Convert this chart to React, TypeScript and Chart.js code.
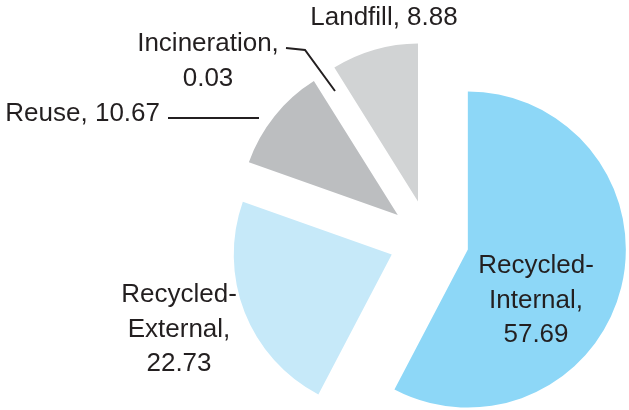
import React, { useEffect, useRef } from "react";
import { Chart, registerables } from "chart.js";

Chart.register(...registerables);

// ---- data ----
const categories = ["Recycled-Internal", "Recycled-External", "Reuse", "Incineration", "Landfill"];
const values = [57.69, 22.73, 10.67, 0.03, 8.88];
const colors = ["#8DD7F7", "#C6E9F9", "#BCBEC0", "#FFFFFF", "#D1D3D4"];

// ---- layout (label anchors, not data) ----
const EXPLODE = 40;
const RADIUS = 158;
const FONT = '26px "Liberation Sans", Arial, sans-serif';
const TEXT_COLOR = "#231F20";
const LINE_H = 34.5;
const labelLayout = [
  { x: 536, y: 273, align: "center", style: 3 },
  { x: 179, y: 302, align: "center", style: 3 },
  { x: 160, y: 121, align: "right", style: 1 },
  { x: 208, y: 51, align: "center", style: 2 },
  { x: 384, y: 25, align: "center", style: 1 },
];
const leaderLines: number[][][] = [
  [],
  [],
  [[168, 118], [259, 118]],
  [[286, 48], [305, 50], [335, 91]],
  [],
];

function labelText(i: number): string[] {
  const name = categories[i];
  const v = values[i].toFixed(2);
  const style = labelLayout[i].style;
  if (style === 3) {
    const parts = name.split("-");
    return [parts[0] + "-", parts[1] + ",", v];
  }
  if (style === 2) return [name + ",", v];
  return [`${name}, ${v}`];
}

const explodePlugin = {
  id: "explodeSlices",
  afterDatasetsUpdate(chart: any) {
    const meta = chart.getDatasetMeta(0);
    meta.data.forEach((arc: any) => {
      const mid = (arc.startAngle + arc.endAngle) / 2;
      arc.x += Math.cos(mid) * EXPLODE;
      arc.y += Math.sin(mid) * EXPLODE;
    });
  },
};

const labelPlugin = {
  id: "sliceLabels",
  afterDraw(chart: any) {
    const ctx = chart.ctx;
    ctx.save();
    ctx.font = FONT;
    ctx.fillStyle = TEXT_COLOR;
    ctx.textBaseline = "alphabetic";
    labelLayout.forEach((l, i) => {
      ctx.textAlign = l.align;
      labelText(i).forEach((t, k) => ctx.fillText(t, l.x, l.y + k * LINE_H));
    });
    ctx.strokeStyle = TEXT_COLOR;
    ctx.lineWidth = 2;
    leaderLines.forEach((pts) => {
      if (!pts.length) return;
      ctx.beginPath();
      pts.forEach((p, k) => (k ? ctx.lineTo(p[0], p[1]) : ctx.moveTo(p[0], p[1])));
      ctx.stroke();
    });
    ctx.restore();
  },
};

export default function App() {
  const ref = useRef<HTMLCanvasElement>(null);
  useEffect(() => {
    if (!ref.current) return;
    const chart = new Chart(ref.current, {
      type: "pie",
      data: {
        labels: categories,
        datasets: [
          {
            data: values,
            backgroundColor: colors,
            borderWidth: 0,
            radius: RADIUS,
            clip: false,
          } as any,
        ],
      },
      options: {
        responsive: false,
        animation: false,
        devicePixelRatio: 1,
        events: [],
        layout: { padding: { left: 229, top: 70, right: 0, bottom: 0 } },
        plugins: { legend: { display: false }, tooltip: { enabled: false } },
      },
      plugins: [explodePlugin, labelPlugin],
    });
    return () => chart.destroy();
  }, []);
  return (
    <div style={{ position: "absolute", left: 0, top: 0, width: 629, height: 410, background: "#fff" }}>
      <canvas ref={ref} width={629} height={410} style={{ display: "block" }} />
    </div>
  );
}
